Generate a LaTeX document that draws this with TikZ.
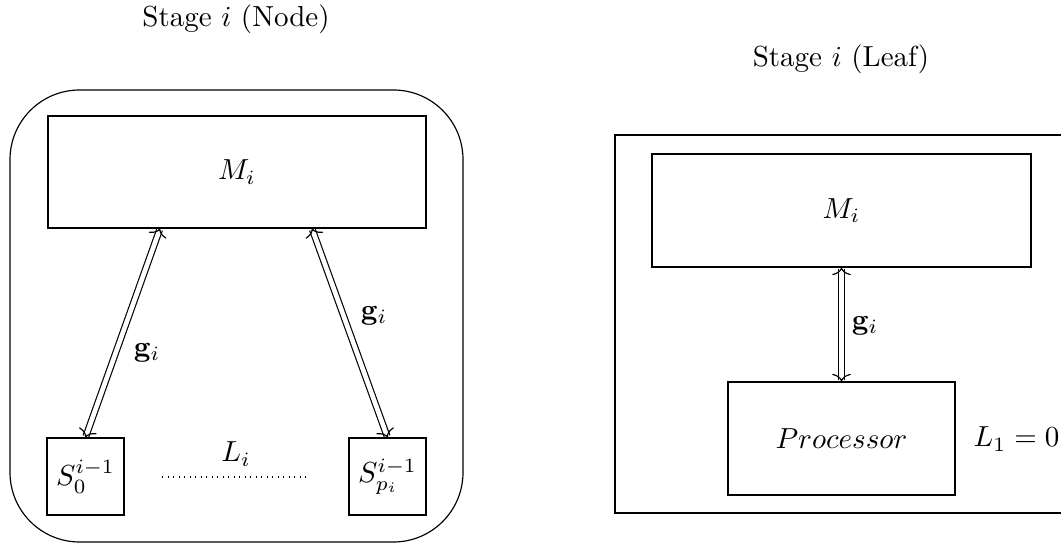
\documentclass[tikz,border=0pt]{standalone}
\usetikzlibrary{calc,arrows.meta}
\tikzset{
  pbox/.style n args={2}{draw, inner sep=0pt, minimum width={#1*0.3448pt}, minimum height={#2*0.3448pt}},
  lbl/.style={inner sep=0pt},
  thintip/.tip={To[line width=0.4pt, length=2.6pt, width=6.4pt]},
  dblarrow/.style={double, double distance=1.6pt, thintip-thintip},
  dotline/.style={dash pattern=on 0.4pt off 1.5pt},
}
\begin{document}
\begin{tikzpicture}[x=0.3448pt, y=-0.3448pt]
\clip (0,0) rectangle (1061,544);
% left: stage node
\node[lbl, anchor=base] (titleN) at (236,27) {Stage $i$ (Node)};
\node[pbox={453}{452}, rounded corners=24pt] (outerN) at (236.5,316) {};
\node[pbox={378}{112}] (MN) at (237,172) {$M_i$};
\node[pbox={77}{77}] (S0) at (85.5,476.5) {$S_0^{i-1}$};
\node[pbox={77}{77}] (Sp) at (387.5,476.5) {$S_{p_i}^{i-1}$};
\node[lbl, anchor=base] (Li) at (236,462) {$L_i$};
\coordinate (dA) at (162,477);
\coordinate (dB) at (310,477);
\draw[dotline] (dA) -- (dB);
\draw[dblarrow] (S0.north) -- ($(MN.south)+(-77,0)$);
\draw[dblarrow] (Sp.north) -- ($(MN.south)+(75,0)$);
\node[lbl] (gL) at (147,353) {$\mathbf{g}_i$};
\node[lbl] (gR) at (374,316) {$\mathbf{g}_i$};
% right: stage leaf
\node[lbl, anchor=base] (titleL) at (841,67) {Stage $i$ (Leaf)};
\node[pbox={460}{378}] (outerL) at (845,324) {};
\node[pbox={379}{113}] (ML) at (841.5,210.5) {$M_i$};
\node[pbox={227}{113}] (P) at (841.5,438.5) {$Processor$};
\draw[dblarrow] (P.north) -- (ML.south);
\node[lbl] (gP) at (865,326) {$\mathbf{g}_i$};
\node[lbl, anchor=base] (L1) at (1016.5,447) {$L_1 = 0$};
\end{tikzpicture}
\end{document}
